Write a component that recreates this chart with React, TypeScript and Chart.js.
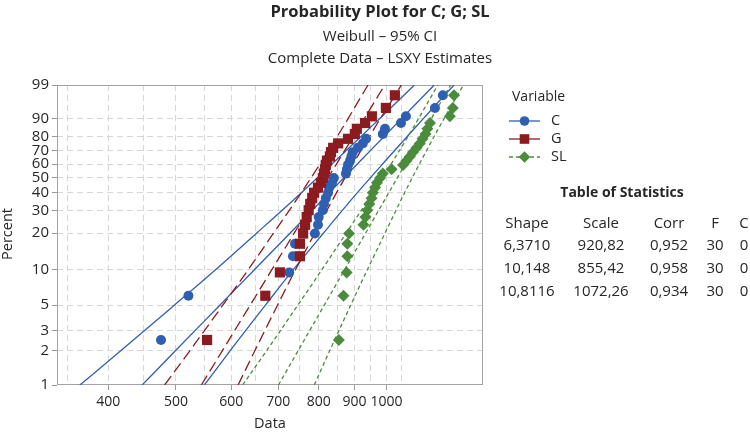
import React, { useEffect, useRef } from 'react';
import { Chart, registerables } from 'chart.js';

Chart.register(...registerables);

const FONT = "'Open Sans', 'DejaVu Sans', sans-serif";
const TEXT = '#262626';

// ---- axis ticks ----
const percentTicks = [1, 2, 3, 5, 10, 20, 30, 40, 50, 60, 70, 80, 90, 99];
const xGridValues = [350, 400, 450, 500, 550, 600, 650, 700, 750, 800, 850, 900, 950, 1000, 1050];
const xTickLabels = [400, 500, 600, 700, 800, 900, 1000];
const xMin = 338;
const xMax = 1374;

// ---- plotted percent for each ordered observation (rank 1..30) ----
const rankPercents = [
  2.49, 6.03, 9.54, 13.01, 16.47, 19.89, 23.29, 26.67, 30.02, 33.35,
  36.67, 39.96, 43.24, 46.49, 49.73, 52.95, 56.17, 59.37, 62.56, 65.74,
  68.93, 72.09, 75.26, 78.44, 81.61, 84.79, 87.97, 91.18, 94.41, 97.61,
];

// ---- ordered observations ----
const dataC = [
  476, 521, 726, 735, 740, 790, 798, 800, 811, 814,
  819, 825, 828, 836, 841, 875, 878, 881, 887, 891,
  895, 910, 925, 935, 988, 995, 1049, 1066, 1173, 1204,
];
const dataG = [
  554, 671, 704, 752, 752, 760, 765, 769, 774, 778,
  783, 788, 798, 806, 811, 814, 817, 819, 822, 830,
  833, 839, 853, 881, 901, 907, 932, 953, 998, 1028,
];
const dataSL = [
  855, 868, 877, 879, 879, 884, 927, 933, 939, 945,
  952, 956, 963, 969, 979, 988, 1017, 1056, 1068, 1080,
  1091, 1104, 1116, 1126, 1137, 1144, 1154, 1232, 1244, 1249,
];

// ---- fitted line and 95% CI, read at these percents ----
const bandPercents = [1, 2, 5, 10, 20, 40, 63.2, 80, 90, 95, 99];
const cLower = [364.4, 416.9, 497.2, 569.1, 651.9, 755.8, 848.3, 919.6, 976.6, 1021.0, 1096.5];
const cFit = [447.3, 499.1, 577.7, 646.8, 727.7, 828.7, 920.8, 992.2, 1049.6, 1093.9, 1170.2];
const cUpper = [549.1, 597.5, 671.2, 735.2, 812.3, 908.6, 999.5, 1070.6, 1128.0, 1172.0, 1248.8];
const gLower = [481.7, 523.3, 583.4, 633.9, 689.4, 755.5, 810.4, 850.2, 880.8, 903.0, 941.1];
const gFit = [543.6, 582.4, 638.4, 685.3, 737.9, 800.6, 855.4, 896.5, 928.7, 953.1, 994.3];
const gUpper = [613.5, 648.2, 698.5, 740.9, 789.8, 848.4, 902.9, 945.3, 979.2, 1006.0, 1050.5];
const slLower = [622.7, 673.6, 746.8, 807.9, 875.5, 956.6, 1024.1, 1073.4, 1110.7, 1138.0, 1184.2];
const slFit = [700.7, 747.4, 814.7, 870.8, 933.4, 1007.7, 1072.3, 1120.5, 1158.3, 1186.8, 1235.0];
const slUpper = [788.4, 829.3, 888.8, 938.6, 995.1, 1061.5, 1122.8, 1169.7, 1208.0, 1237.7, 1288.0];

// ---- legend / statistics table ----
const seriesNames = ['C', 'G', 'SL'];
const statHeaders = ['Shape', 'Scale', 'Corr', 'F', 'C'];
const statShape = ['6,3710', '10,148', '10,8116'];
const statScale = ['920,82', '855,42', '1072,26'];
const statCorr = ['0,952', '0,958', '0,934'];
const statF = ['30', '30', '30'];
const statC = ['0', '0', '0'];

const BLUE = '#2f5fb0';
const RED = '#8c1b1f';
const GREEN = '#4a8c3c';
const colors = [BLUE, RED, GREEN];
const markers = ['circle', 'rect', 'rectRot'];
const lineDashes: number[][] = [[], [], [4, 3]];

// Weibull probability transform of the percent axis
const toW = (p: number) => Math.log(-Math.log(1 - p / 100));

const pts = (xs: number[]) => xs.map((x, i) => ({ x, y: toW(rankPercents[i]) }));
const band = (xs: number[]) => xs.map((x, i) => ({ x, y: toW(bandPercents[i]) }));

const lineDs = (xs: number[], color: string, dash: number[]) => ({
  data: band(xs),
  showLine: true,
  borderColor: color,
  backgroundColor: color,
  borderWidth: 1.3,
  borderDash: dash,
  pointRadius: 0,
  cubicInterpolationMode: 'monotone',
  fill: false,
});

const drawMarker = (ctx: CanvasRenderingContext2D, kind: string, x: number, y: number, color: string) => {
  ctx.save();
  ctx.fillStyle = color;
  ctx.beginPath();
  if (kind === 'circle') {
    ctx.arc(x, y, 4.8, 0, Math.PI * 2);
  } else if (kind === 'rect') {
    ctx.rect(x - 4.8, y - 4.8, 9.6, 9.6);
  } else {
    ctx.moveTo(x, y - 5.8);
    ctx.lineTo(x + 5.8, y);
    ctx.lineTo(x, y + 5.8);
    ctx.lineTo(x - 5.8, y);
    ctx.closePath();
  }
  ctx.fill();
  ctx.restore();
};

const text = (
  ctx: CanvasRenderingContext2D,
  s: string,
  x: number,
  y: number,
  font: string,
  align: CanvasTextAlign = 'center',
) => {
  ctx.save();
  ctx.font = font;
  ctx.fillStyle = TEXT;
  ctx.textAlign = align;
  ctx.textBaseline = 'middle';
  ctx.fillText(s, x, y);
  ctx.restore();
};

const decorPlugin = {
  id: 'decor',
  beforeDatasetsDraw(chart: any) {
    const { ctx, chartArea: a } = chart;
    ctx.save();
    ctx.strokeStyle = '#a3a3a3';
    ctx.lineWidth = 1;
    ctx.strokeRect(a.left + 0.5, a.top + 0.5, a.right - a.left - 1, a.bottom - a.top - 1);
    ctx.restore();
  },
  afterDraw(chart: any) {
    const ctx: CanvasRenderingContext2D = chart.ctx;
    // titles
    text(ctx, 'Probability Plot for C; G; SL', 380, 12, `bold 16.5px ${FONT}`);
    text(ctx, 'Weibull – 95% CI', 380, 37, `15px ${FONT}`);
    text(ctx, 'Complete Data – LSXY Estimates', 380, 59, `15px ${FONT}`);
    // axis titles
    text(ctx, 'Data', 270, 424, `14.5px ${FONT}`);
    ctx.save();
    ctx.translate(8, 234);
    ctx.rotate(-Math.PI / 2);
    text(ctx, 'Percent', 0, 0, `14.5px ${FONT}`);
    ctx.restore();
    // legend
    text(ctx, 'Variable', 512, 97, `14px ${FONT}`, 'left');
    const ly = [121, 139, 157];
    seriesNames.forEach((name, i) => {
      ctx.save();
      ctx.strokeStyle = colors[i];
      ctx.lineWidth = 1.3;
      ctx.setLineDash(lineDashes[i]);
      ctx.beginPath();
      ctx.moveTo(509, ly[i]);
      ctx.lineTo(540, ly[i]);
      ctx.stroke();
      ctx.restore();
      drawMarker(ctx, markers[i], 524.5, ly[i], colors[i]);
      text(ctx, name, 551, ly[i], `14.5px ${FONT}`, 'left');
    });
    // statistics table
    text(ctx, 'Table of Statistics', 622, 193, `bold 14px ${FONT}`);
    const cx = [527, 601, 669, 715, 744];
    const rows = [statHeaders];
    for (let i = 0; i < statShape.length; i++) {
      rows.push([statShape[i], statScale[i], statCorr[i], statF[i], statC[i]]);
    }
    const ry = [224, 246, 269, 292];
    rows.forEach((r, ri) => r.forEach((cell, ci) => text(ctx, cell, cx[ci], ry[ri], `15px ${FONT}`)));
  },
};

export default function App() {
  const ref = useRef<HTMLCanvasElement>(null);
  useEffect(() => {
    document.body.style.margin = '0';
    const canvas = ref.current;
    if (!canvas) return;
    const datasets: any[] = [
      {
        data: pts(dataSL), showLine: false, pointStyle: 'rectRot', pointRadius: 6,
        backgroundColor: GREEN, borderColor: GREEN, borderWidth: 0,
      },
      {
        data: pts(dataG), showLine: false, pointStyle: 'rect', pointRadius: 7.2,
        backgroundColor: RED, borderColor: RED, borderWidth: 0,
      },
      {
        data: pts(dataC), showLine: false, pointStyle: 'circle', pointRadius: 5,
        backgroundColor: BLUE, borderColor: BLUE, borderWidth: 0,
      },
      lineDs(slLower, GREEN, [4, 3]),
      lineDs(slFit, GREEN, [4, 3]),
      lineDs(slUpper, GREEN, [4, 3]),
      lineDs(gLower, RED, [11, 5]),
      lineDs(gFit, RED, [11, 5]),
      lineDs(gUpper, RED, [11, 5]),
      lineDs(cLower, BLUE, []),
      lineDs(cFit, BLUE, []),
      lineDs(cUpper, BLUE, []),
    ];
    const chart = new Chart(canvas, {
      type: 'scatter',
      data: { datasets },
      plugins: [decorPlugin],
      options: {
        animation: false,
        responsive: false,
        devicePixelRatio: 1,
        events: [],
        layout: { padding: { top: 85, right: 267, left: 0, bottom: 0 } },
        plugins: { legend: { display: false }, tooltip: { enabled: false }, title: { display: false } },
        scales: {
          x: {
            type: 'logarithmic',
            min: xMin,
            max: xMax,
            afterBuildTicks: (s: any) => {
              s.ticks = xGridValues.map((v) => ({ value: v }));
            },
            afterFit: (s: any) => {
              s.height = 47;
            },
            ticks: {
              autoSkip: false,
              maxRotation: 0,
              padding: 4,
              color: TEXT,
              font: { family: FONT, size: 14 },
              callback: (v: any) => (xTickLabels.includes(Number(v)) ? String(v) : ''),
            },
            grid: {
              color: '#d6d6d6',
              lineWidth: 1,
              tickLength: 5,
              tickColor: (c: any) => (c.tick && xTickLabels.includes(c.tick.value) ? '#9a9a9a' : 'rgba(0,0,0,0)'),
            },
            border: { display: false, dash: [6, 4] },
          },
          y: {
            type: 'linear',
            min: toW(percentTicks[0]),
            max: toW(percentTicks[percentTicks.length - 1]),
            afterBuildTicks: (s: any) => {
              s.ticks = percentTicks.map((p) => ({ value: toW(p) }));
            },
            afterFit: (s: any) => {
              s.width = 57;
            },
            ticks: {
              autoSkip: false,
              padding: 3,
              color: TEXT,
              font: { family: FONT, size: 15 },
              callback: (_v: any, i: number) => String(percentTicks[i]),
            },
            grid: {
              color: (c: any) =>
                c.index === 0 || c.index === percentTicks.length - 1 ? 'rgba(0,0,0,0)' : '#d6d6d6',
              lineWidth: 1,
              tickLength: 5,
              tickColor: '#9a9a9a',
            },
            border: { display: false, dash: [6, 4] },
          },
        },
      } as any,
    });
    return () => chart.destroy();
  }, []);
  return (
    <div style={{ width: 750, height: 432, background: '#ffffff' }}>
      <canvas ref={ref} width={750} height={432} style={{ display: 'block', width: 750, height: 432 }} />
    </div>
  );
}
